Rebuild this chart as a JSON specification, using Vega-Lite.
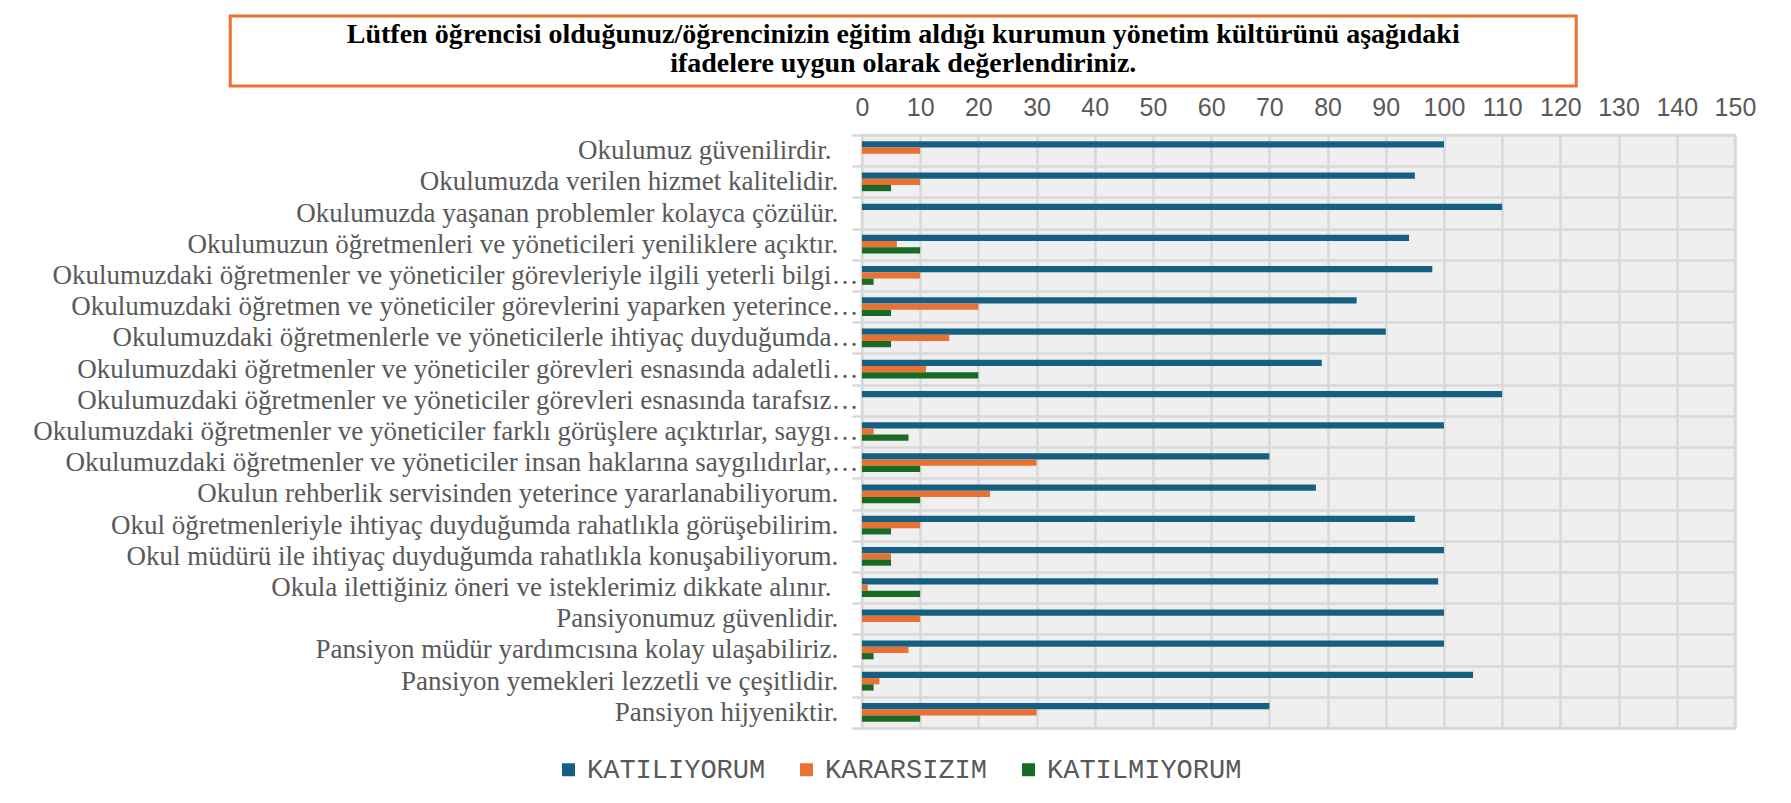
{
  "$schema": "https://vega.github.io/schema/vega-lite/v6.json",
  "padding": {"left": 31, "top": 14, "right": 5, "bottom": 5},
  "background": "white",
  "config": {"font": "Liberation Sans", "view": {"stroke": null}},
  "columns": 1,
  "center": true,
  "spacing": 5,
  "concat": [
    {
      "width": 1346,
      "height": 70,
      "view": {"stroke": "#E97132", "strokeWidth": 3, "fill": "white"},
      "data": {"values": [{"title": "Lütfen öğrencisi olduğunuz/öğrencinizin eğitim aldığı kurumun yönetim kültürünü aşağıdaki\nifadelere uygun olarak değerlendiriniz."}]},
      "mark": {"type": "text", "font": "Liberation Serif", "fontWeight": "bold", "fontSize": 28, "lineBreak": "\n", "lineHeight": 28.5, "baseline": "middle", "align": "center", "dy": -16, "color": "black"},
      "encoding": {
        "text": {"field": "title"},
        "y": {"field": "title", "type": "nominal", "axis": {"orient": "right", "title": "\u00a0", "titleFontSize": 10, "titlePadding": 801, "labels": false, "ticks": false, "domain": false, "grid": false}}
      }
    },
    {
      "width": 873,
      "height": 593,
      "view": {"stroke": "#D9D9D9", "strokeWidth": 2.5, "fill": "#EFEFEF"},
      "data": {"values": [
        {"item": "Okulumuz güvenilirdir. ", "series": "KATILIYORUM", "value": 100},
        {"item": "Okulumuz güvenilirdir. ", "series": "KARARSIZIM", "value": 10},
        {"item": "Okulumuz güvenilirdir. ", "series": "KATILMIYORUM", "value": 0},
        {"item": "Okulumuzda verilen hizmet kalitelidir.", "series": "KATILIYORUM", "value": 95},
        {"item": "Okulumuzda verilen hizmet kalitelidir.", "series": "KARARSIZIM", "value": 10},
        {"item": "Okulumuzda verilen hizmet kalitelidir.", "series": "KATILMIYORUM", "value": 5},
        {"item": "Okulumuzda yaşanan problemler kolayca çözülür.", "series": "KATILIYORUM", "value": 110},
        {"item": "Okulumuzda yaşanan problemler kolayca çözülür.", "series": "KARARSIZIM", "value": 0},
        {"item": "Okulumuzda yaşanan problemler kolayca çözülür.", "series": "KATILMIYORUM", "value": 0},
        {"item": "Okulumuzun öğretmenleri ve yöneticileri yeniliklere açıktır.", "series": "KATILIYORUM", "value": 94},
        {"item": "Okulumuzun öğretmenleri ve yöneticileri yeniliklere açıktır.", "series": "KARARSIZIM", "value": 6},
        {"item": "Okulumuzun öğretmenleri ve yöneticileri yeniliklere açıktır.", "series": "KATILMIYORUM", "value": 10},
        {"item": "Okulumuzdaki öğretmenler ve yöneticiler görevleriyle ilgili yeterli bilgi…", "series": "KATILIYORUM", "value": 98},
        {"item": "Okulumuzdaki öğretmenler ve yöneticiler görevleriyle ilgili yeterli bilgi…", "series": "KARARSIZIM", "value": 10},
        {"item": "Okulumuzdaki öğretmenler ve yöneticiler görevleriyle ilgili yeterli bilgi…", "series": "KATILMIYORUM", "value": 2},
        {"item": "Okulumuzdaki öğretmen ve yöneticiler görevlerini yaparken yeterince…", "series": "KATILIYORUM", "value": 85},
        {"item": "Okulumuzdaki öğretmen ve yöneticiler görevlerini yaparken yeterince…", "series": "KARARSIZIM", "value": 20},
        {"item": "Okulumuzdaki öğretmen ve yöneticiler görevlerini yaparken yeterince…", "series": "KATILMIYORUM", "value": 5},
        {"item": "Okulumuzdaki öğretmenlerle ve yöneticilerle ihtiyaç duyduğumda…", "series": "KATILIYORUM", "value": 90},
        {"item": "Okulumuzdaki öğretmenlerle ve yöneticilerle ihtiyaç duyduğumda…", "series": "KARARSIZIM", "value": 15},
        {"item": "Okulumuzdaki öğretmenlerle ve yöneticilerle ihtiyaç duyduğumda…", "series": "KATILMIYORUM", "value": 5},
        {"item": "Okulumuzdaki öğretmenler ve yöneticiler görevleri esnasında adaletli…", "series": "KATILIYORUM", "value": 79},
        {"item": "Okulumuzdaki öğretmenler ve yöneticiler görevleri esnasında adaletli…", "series": "KARARSIZIM", "value": 11},
        {"item": "Okulumuzdaki öğretmenler ve yöneticiler görevleri esnasında adaletli…", "series": "KATILMIYORUM", "value": 20},
        {"item": "Okulumuzdaki öğretmenler ve yöneticiler görevleri esnasında tarafsız…", "series": "KATILIYORUM", "value": 110},
        {"item": "Okulumuzdaki öğretmenler ve yöneticiler görevleri esnasında tarafsız…", "series": "KARARSIZIM", "value": 0},
        {"item": "Okulumuzdaki öğretmenler ve yöneticiler görevleri esnasında tarafsız…", "series": "KATILMIYORUM", "value": 0},
        {"item": "Okulumuzdaki öğretmenler ve yöneticiler farklı görüşlere açıktırlar, saygı…", "series": "KATILIYORUM", "value": 100},
        {"item": "Okulumuzdaki öğretmenler ve yöneticiler farklı görüşlere açıktırlar, saygı…", "series": "KARARSIZIM", "value": 2},
        {"item": "Okulumuzdaki öğretmenler ve yöneticiler farklı görüşlere açıktırlar, saygı…", "series": "KATILMIYORUM", "value": 8},
        {"item": "Okulumuzdaki öğretmenler ve yöneticiler insan haklarına saygılıdırlar,…", "series": "KATILIYORUM", "value": 70},
        {"item": "Okulumuzdaki öğretmenler ve yöneticiler insan haklarına saygılıdırlar,…", "series": "KARARSIZIM", "value": 30},
        {"item": "Okulumuzdaki öğretmenler ve yöneticiler insan haklarına saygılıdırlar,…", "series": "KATILMIYORUM", "value": 10},
        {"item": "Okulun rehberlik servisinden yeterince yararlanabiliyorum.", "series": "KATILIYORUM", "value": 78},
        {"item": "Okulun rehberlik servisinden yeterince yararlanabiliyorum.", "series": "KARARSIZIM", "value": 22},
        {"item": "Okulun rehberlik servisinden yeterince yararlanabiliyorum.", "series": "KATILMIYORUM", "value": 10},
        {"item": "Okul öğretmenleriyle ihtiyaç duyduğumda rahatlıkla görüşebilirim.", "series": "KATILIYORUM", "value": 95},
        {"item": "Okul öğretmenleriyle ihtiyaç duyduğumda rahatlıkla görüşebilirim.", "series": "KARARSIZIM", "value": 10},
        {"item": "Okul öğretmenleriyle ihtiyaç duyduğumda rahatlıkla görüşebilirim.", "series": "KATILMIYORUM", "value": 5},
        {"item": "Okul müdürü ile ihtiyaç duyduğumda rahatlıkla konuşabiliyorum.", "series": "KATILIYORUM", "value": 100},
        {"item": "Okul müdürü ile ihtiyaç duyduğumda rahatlıkla konuşabiliyorum.", "series": "KARARSIZIM", "value": 5},
        {"item": "Okul müdürü ile ihtiyaç duyduğumda rahatlıkla konuşabiliyorum.", "series": "KATILMIYORUM", "value": 5},
        {"item": "Okula ilettiğiniz öneri ve isteklerimiz dikkate alınır. ", "series": "KATILIYORUM", "value": 99},
        {"item": "Okula ilettiğiniz öneri ve isteklerimiz dikkate alınır. ", "series": "KARARSIZIM", "value": 1},
        {"item": "Okula ilettiğiniz öneri ve isteklerimiz dikkate alınır. ", "series": "KATILMIYORUM", "value": 10},
        {"item": "Pansiyonumuz güvenlidir.", "series": "KATILIYORUM", "value": 100},
        {"item": "Pansiyonumuz güvenlidir.", "series": "KARARSIZIM", "value": 10},
        {"item": "Pansiyonumuz güvenlidir.", "series": "KATILMIYORUM", "value": 0},
        {"item": "Pansiyon müdür yardımcısına kolay ulaşabiliriz.", "series": "KATILIYORUM", "value": 100},
        {"item": "Pansiyon müdür yardımcısına kolay ulaşabiliriz.", "series": "KARARSIZIM", "value": 8},
        {"item": "Pansiyon müdür yardımcısına kolay ulaşabiliriz.", "series": "KATILMIYORUM", "value": 2},
        {"item": "Pansiyon yemekleri lezzetli ve çeşitlidir.", "series": "KATILIYORUM", "value": 105},
        {"item": "Pansiyon yemekleri lezzetli ve çeşitlidir.", "series": "KARARSIZIM", "value": 3},
        {"item": "Pansiyon yemekleri lezzetli ve çeşitlidir.", "series": "KATILMIYORUM", "value": 2},
        {"item": "Pansiyon hijyeniktir.", "series": "KATILIYORUM", "value": 70},
        {"item": "Pansiyon hijyeniktir.", "series": "KARARSIZIM", "value": 30},
        {"item": "Pansiyon hijyeniktir.", "series": "KATILMIYORUM", "value": 10}
      ]},
      "mark": {"type": "bar"},
      "encoding": {
        "y": {
          "field": "item", "type": "nominal", "sort": null,
          "scale": {"paddingInner": 0, "paddingOuter": 0},
          "axis": {
            "title": null, "domain": false, "ticks": true, "tickBand": "extent",
            "tickSize": 10, "tickColor": "#D9D9D9", "tickWidth": 2.5,
            "grid": true, "gridColor": "#D9D9D9", "gridWidth": 2.5,
            "labelFont": "Liberation Serif", "labelFontSize": 27, "labelColor": "#595959",
            "labelLimit": 1000, "labelPadding": -6,
            "labelExpr": "indexof(datum.label, '…') >= 0 ? datum.label : datum.label + '\u00a0\u00a0\u00a0\u2060'"
          }
        },
        "yOffset": {
          "field": "series", "type": "nominal",
          "sort": ["KATILIYORUM", "KARARSIZIM", "KATILMIYORUM"],
          "scale": {"paddingInner": 0, "paddingOuter": 1.3}
        },
        "x": {
          "field": "value", "type": "quantitative",
          "scale": {"domain": [0, 150], "nice": false},
          "axis": {
            "orient": "top", "title": null,
            "values": [0, 10, 20, 30, 40, 50, 60, 70, 80, 90, 100, 110, 120, 130, 140, 150],
            "domain": false, "ticks": false, "grid": true, "gridColor": "#D9D9D9", "gridWidth": 2.5,
            "labelFont": "Liberation Sans", "labelFontSize": 25, "labelColor": "#595959",
            "labelPadding": 15, "labelFlush": false
          }
        },
        "color": {
          "field": "series", "type": "nominal",
          "sort": ["KATILIYORUM", "KARARSIZIM", "KATILMIYORUM"],
          "scale": {"domain": ["KATILIYORUM", "KARARSIZIM", "KATILMIYORUM"], "range": ["#156082", "#E97132", "#196B24"]},
          "legend": {
            "title": null, "orient": "none", "legendX": 325, "legendY": 740,
            "direction": "horizontal", "symbolType": "square", "symbolSize": 169, "symbolStrokeWidth": 0,
            "labelFont": "Liberation Mono", "labelFontSize": 27, "labelColor": "#595959",
            "labelOffset": 5, "columnPadding": 27, "labelLimit": 400
          }
        }
      }
    }
  ]
}
